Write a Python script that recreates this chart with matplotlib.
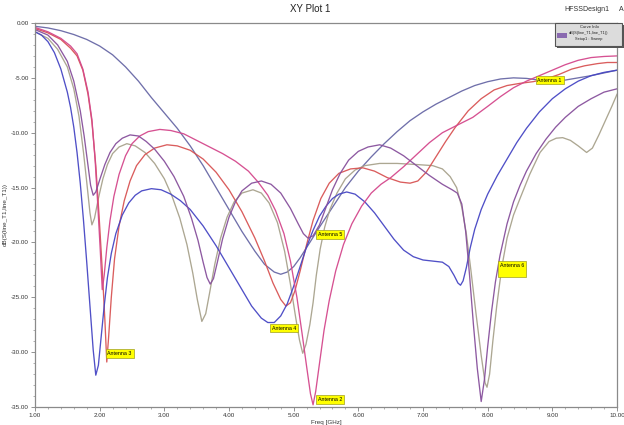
import matplotlib
matplotlib.use("Agg")
import matplotlib.pyplot as plt
from matplotlib.patches import Rectangle
from matplotlib.ticker import MultipleLocator

plt.rcParams['font.family'] = ['Liberation Sans', 'DejaVu Sans']

# ---- data ----
f_slate = [1.0, 1.2, 1.4, 1.6, 1.8, 2.0, 2.2, 2.4, 2.6, 2.8, 3.0, 3.2, 3.4, 3.6, 3.8, 4.0, 4.2, 4.4, 4.55, 4.7, 4.8, 4.9, 5.0, 5.1, 5.25, 5.4, 5.6, 5.8, 6.0, 6.2, 6.4, 6.6, 6.8, 7.0, 7.2, 7.4, 7.6, 7.8, 8.0, 8.2, 8.4, 8.6, 8.8, 9.0, 9.2, 9.4, 9.6, 9.8, 10.0]
s_slate = [-0.3, -0.45, -0.7, -1.05, -1.5, -2.1, -2.9, -4.0, -5.3, -6.8, -8.2, -9.6, -11.2, -13.0, -15.0, -17.0, -19.0, -20.8, -22.0, -22.7, -22.9, -22.7, -22.2, -21.4, -20.0, -18.6, -16.8, -15.0, -13.5, -12.2, -11.0, -9.9, -8.9, -8.1, -7.4, -6.8, -6.2, -5.7, -5.35, -5.1, -5.0, -5.05, -5.2, -5.25, -5.2, -5.0, -4.8, -4.55, -4.3]

f_blue = [1.0, 1.1, 1.2, 1.3, 1.4, 1.5, 1.55, 1.6, 1.65, 1.7, 1.75, 1.8, 1.85, 1.9, 1.94, 1.98, 2.02, 2.07, 2.12, 2.18, 2.25, 2.35, 2.45, 2.55, 2.65, 2.8, 2.95, 3.1, 3.25, 3.4, 3.6, 3.8, 4.0, 4.2, 4.35, 4.5, 4.6, 4.7, 4.8, 4.9, 5.0, 5.1, 5.2, 5.3, 5.4, 5.5, 5.6, 5.7, 5.82, 5.95, 6.1, 6.25, 6.4, 6.55, 6.7, 6.85, 7.0, 7.15, 7.3, 7.4, 7.48, 7.54, 7.58, 7.62, 7.67, 7.73, 7.8, 7.9, 8.0, 8.15, 8.3, 8.45, 8.6, 8.8, 9.0, 9.2, 9.4, 9.6, 9.8, 10.0]
s_blue = [-0.8, -1.1, -1.7, -2.7, -4.2, -6.3, -7.7, -9.5, -11.8, -14.6, -18.0, -21.8, -25.8, -29.8, -32.1, -31.2, -28.8, -25.8, -23.2, -21.0, -19.2, -17.5, -16.4, -15.7, -15.3, -15.1, -15.2, -15.6, -16.2, -17.0, -18.5, -20.3, -22.3, -24.3, -25.8, -26.9, -27.3, -27.3, -26.7, -25.6, -24.0, -22.2, -20.4, -18.9, -17.6, -16.7, -16.0, -15.6, -15.4, -15.6, -16.3, -17.3, -18.5, -19.7, -20.7, -21.3, -21.6, -21.7, -21.8, -22.2, -23.0, -23.7, -23.9, -23.5, -22.3, -20.5, -18.8, -17.0, -15.6, -13.9, -12.4, -10.9, -9.6, -8.1, -6.9, -6.0, -5.3, -4.8, -4.5, -4.3]

f_purple = [1.0, 1.2, 1.35, 1.5, 1.6, 1.7, 1.76, 1.82, 1.86, 1.9, 1.94, 2.0, 2.08, 2.16, 2.25, 2.35, 2.47, 2.6, 2.72, 2.85, 3.0, 3.15, 3.3, 3.42, 3.52, 3.6, 3.66, 3.71, 3.76, 3.82, 3.9, 4.0, 4.1, 4.2, 4.35, 4.5, 4.65, 4.8, 4.95, 5.07, 5.15, 5.22, 5.3, 5.4, 5.5, 5.6, 5.72, 5.85, 6.0, 6.15, 6.33, 6.5, 6.7, 6.9, 7.1, 7.3, 7.45, 7.53, 7.6, 7.66, 7.72, 7.78, 7.84, 7.9, 7.95, 8.0, 8.06, 8.12, 8.19, 8.3, 8.4, 8.5, 8.6, 8.75, 8.9, 9.05, 9.2, 9.4, 9.6, 9.8, 10.0]
s_purple = [-0.6, -1.1, -2.0, -3.5, -5.3, -8.0, -10.3, -13.0, -14.8, -15.7, -15.4, -14.3, -12.9, -11.8, -11.0, -10.5, -10.2, -10.3, -10.8, -11.5, -12.6, -14.0, -15.8, -17.8, -19.8, -21.8, -23.2, -23.8, -23.3, -21.8, -19.7, -17.7, -16.3, -15.3, -14.6, -14.4, -14.7, -15.5, -16.9, -18.3, -19.2, -19.6, -19.4, -18.4, -16.8, -15.2, -13.7, -12.5, -11.7, -11.3, -11.1, -11.4, -12.1, -13.0, -13.9, -14.7, -15.2, -15.5, -16.5, -19.0, -23.0, -27.5, -31.5, -34.5, -32.5, -29.5, -26.3, -23.6, -21.2, -18.3, -16.3, -14.8, -13.5, -11.9, -10.6, -9.5, -8.6, -7.6, -6.9, -6.3, -6.0]

f_grey = [1.0, 1.2, 1.35, 1.5, 1.6, 1.68, 1.75, 1.8, 1.85, 1.88, 1.92, 1.98, 2.05, 2.12, 2.2, 2.3, 2.42, 2.55, 2.7, 2.85, 3.0, 3.12, 3.24, 3.35, 3.44, 3.51, 3.58, 3.64, 3.7, 3.78, 3.87, 3.97, 4.08, 4.2, 4.37, 4.5, 4.62, 4.75, 4.86, 4.95, 5.03, 5.09, 5.14, 5.19, 5.25, 5.3, 5.35, 5.41, 5.48, 5.56, 5.67, 5.8, 5.95, 6.1, 6.33, 6.6, 6.9, 7.15, 7.3, 7.42, 7.52, 7.6, 7.67, 7.74, 7.82, 7.9, 7.96, 7.99, 8.03, 8.08, 8.14, 8.22, 8.3, 8.4, 8.5, 8.65, 8.81, 8.95, 9.06, 9.16, 9.28, 9.4, 9.53, 9.62, 9.72, 9.82, 9.92, 10.0]
s_grey = [-0.8, -1.4, -2.4, -4.0, -6.0, -8.5, -11.8, -14.5, -17.3, -18.4, -17.8, -16.0, -14.2, -12.9, -11.9, -11.3, -11.0, -11.2, -11.8, -12.8, -14.2, -15.8, -17.8, -20.2, -22.8, -25.2, -27.2, -26.5, -24.6, -22.0, -19.6, -17.7, -16.3, -15.5, -15.2, -15.5, -16.4, -18.2, -20.8, -23.8, -26.8, -28.9, -30.1, -29.3, -27.5, -25.5, -23.0, -20.6, -18.6, -17.0, -15.5, -14.2, -13.4, -13.0, -12.8, -12.8, -12.9, -13.0, -13.3, -14.0, -15.0, -16.8, -19.2, -22.5, -26.5, -30.3, -32.8, -33.2, -32.0, -29.0, -25.8, -22.2, -19.6, -17.5, -16.0, -13.8, -11.8, -10.8, -10.5, -10.45, -10.7, -11.2, -11.8, -11.4, -10.2, -8.9, -7.6, -6.5]

f_red = [1.0, 1.2, 1.4, 1.55, 1.65, 1.74, 1.82, 1.88, 1.94, 1.99, 2.04, 2.08, 2.11, 2.14, 2.18, 2.23, 2.3, 2.38, 2.47, 2.57, 2.7, 2.85, 3.04, 3.2, 3.4, 3.6, 3.8, 4.0, 4.2, 4.4, 4.55, 4.68, 4.8, 4.88, 4.95, 5.02, 5.1, 5.2, 5.3, 5.42, 5.55, 5.7, 5.88, 6.07, 6.25, 6.45, 6.65, 6.8, 6.92, 7.05, 7.2, 7.35, 7.5, 7.7, 7.9, 8.1, 8.3, 8.5, 8.7, 8.9, 9.1, 9.3, 9.5, 9.7, 9.85, 10.0]
s_red = [-0.5, -0.9, -1.5, -2.3, -3.0, -4.3, -6.5, -9.0, -13.0, -17.5, -22.5, -27.0, -30.9, -28.5, -25.0, -21.5, -18.5, -16.2, -14.4, -13.0, -12.0, -11.4, -11.1, -11.2, -11.6, -12.4, -13.6, -15.2, -17.2, -19.6, -21.7, -23.7, -25.2, -25.8, -25.5, -24.4, -22.6, -20.2, -18.0, -16.0, -14.6, -13.7, -13.3, -13.2, -13.5, -14.1, -14.5, -14.6, -14.4, -13.6, -12.2, -10.8, -9.5, -8.0, -6.9, -6.1, -5.7, -5.5, -5.35, -5.1, -4.7, -4.2, -3.9, -3.7, -3.6, -3.6]

f_pink = [1.0, 1.2, 1.4, 1.55, 1.65, 1.74, 1.82, 1.88, 1.93, 1.97, 2.01, 2.04, 2.07, 2.11, 2.16, 2.22, 2.3, 2.4, 2.5, 2.62, 2.75, 2.93, 3.1, 3.3, 3.5, 3.7, 3.9, 4.1, 4.3, 4.45, 4.6, 4.72, 4.85, 4.95, 5.05, 5.13, 5.2, 5.26, 5.3, 5.34, 5.4, 5.47, 5.55, 5.65, 5.77, 5.9, 6.05, 6.2, 6.35, 6.5, 6.7, 6.9, 7.1, 7.3, 7.5, 7.77, 8.0, 8.2, 8.4, 8.6, 8.8, 9.0, 9.2, 9.4, 9.6, 9.8, 10.0]
s_pink = [-0.4, -0.8, -1.4, -2.1, -2.8, -4.2, -6.3, -8.8, -12.5, -16.5, -20.8, -24.3, -23.0, -20.5, -18.0, -15.8, -13.8, -12.1, -11.0, -10.3, -9.9, -9.7, -9.8, -10.1, -10.7, -11.3, -11.9, -12.6, -13.5, -14.5, -15.7, -17.1, -19.2, -21.7, -25.0, -28.3, -31.3, -33.8, -34.8, -33.6, -31.0, -28.0, -25.3, -22.6, -20.2, -18.3, -16.7, -15.5, -14.7, -14.1, -13.1, -12.0, -10.9, -10.0, -9.4, -8.6, -7.6, -6.7, -5.9, -5.3, -4.8, -4.3, -3.8, -3.4, -3.15, -3.05, -3.0]

series = [
    (f_slate, s_slate, '#6868a6'),
    (f_grey, s_grey, '#a8a28c'),
    (f_red, s_red, '#d85454'),
    (f_blue, s_blue, '#4646c4'),
    (f_pink, s_pink, '#d4488c'),
    (f_purple, s_purple, '#87509c'),
]

marker_labels = [
    ("Antenna 1", 8.77, -5.2),
    ("Antenna 2", 5.38, -34.3),
    ("Antenna 3", 2.12, -30.1),
    ("Antenna 4", 4.66, -27.8),
    ("Antenna 5", 5.38, -19.3),
    ("Antenna 6\n ", 8.19, -22.4),
]

x_ticks = [1, 2, 3, 4, 5, 6, 7, 8, 9, 10]
y_ticks = [0, -5, -10, -15, -20, -25, -30, -35]

# ---- figure ----
fig = plt.figure(figsize=(6.24, 4.25), dpi=100)
ax = fig.add_axes([35/624, 1-407/425, (617-35)/624, (407-23)/425])

for f, s, c in series:
    ax.plot(f, s, color=c, lw=0.95, alpha=0.95, solid_joinstyle='round')

ax.set_xlim(1, 10)
ax.set_ylim(-35, 0)
ax.set_xticks(x_ticks)
ax.set_xticklabels([f"{v:.2f}" for v in x_ticks])
ax.set_yticks(y_ticks)
ax.set_yticklabels([f"{v:.2f}" for v in y_ticks])
ax.xaxis.set_minor_locator(MultipleLocator(0.2))
ax.yaxis.set_minor_locator(MultipleLocator(1))
ax.tick_params(axis='both', which='major', labelsize=4.5, length=3, width=0.6,
               color='#808080', labelcolor='#333333', pad=1.5)
ax.tick_params(axis='both', which='minor', length=1.5, width=0.5, color='#909090')
for sp in ax.spines.values():
    sp.set_color('#8a8a8a')
    sp.set_linewidth(0.9)

ax.set_xlabel("Freq [GHz]", fontsize=4.5, color='#333333', labelpad=1)
ax.set_ylabel("dB(S(line_T1,line_T1))", fontsize=4.5, color='#333333', labelpad=2)

for txt, x, y in marker_labels:
    ax.text(x, y, txt, fontsize=3.8, color='black', ha='left', va='center',
            linespacing=1.6,
            bbox=dict(boxstyle='square,pad=0.35', fc='#ffff00', ec='#a0a020', lw=0.5),
            zorder=5)

fig.text(0.497, 0.978, "XY Plot 1", fontsize=7, ha='center', va='center', color='#222222')
fig.text(0.94, 0.978, "HFSSDesign1", fontsize=5, ha='center', va='center', color='#333333')
fig.text(0.995, 0.978, "A", fontsize=5, ha='center', va='center', color='#333333')

# legend box (blurry in the original)
fig.patches.append(Rectangle((557/624, 1-48/425), 67/624, 23/425, transform=fig.transFigure,
                             fc='#555555', ec='none', lw=0, zorder=9))
fig.patches.append(Rectangle((555/624, 1-46/425), 67/624, 23/425, transform=fig.transFigure,
                             fc='#dcdcdc', ec='#555555', lw=0.8, zorder=10))
fig.patches.append(Rectangle((557/624, 1-38/425), 10/624, 5/425, transform=fig.transFigure,
                             fc='#8a6ab0', ec='none', zorder=11))
fig.text(589/624, 1-27/425, "Curve Info", fontsize=3, ha='center', va='center', color='#222222', zorder=12)
fig.text(589/624, 1-33/425, "dB(S(line_T1,line_T1))", fontsize=2.8, ha='center', va='center', color='#222222', zorder=12)
fig.text(589/624, 1-39/425, "Setup1 : Sweep", fontsize=2.8, ha='center', va='center', color='#222222', zorder=12)

fig.savefig("out.png", dpi=100)
